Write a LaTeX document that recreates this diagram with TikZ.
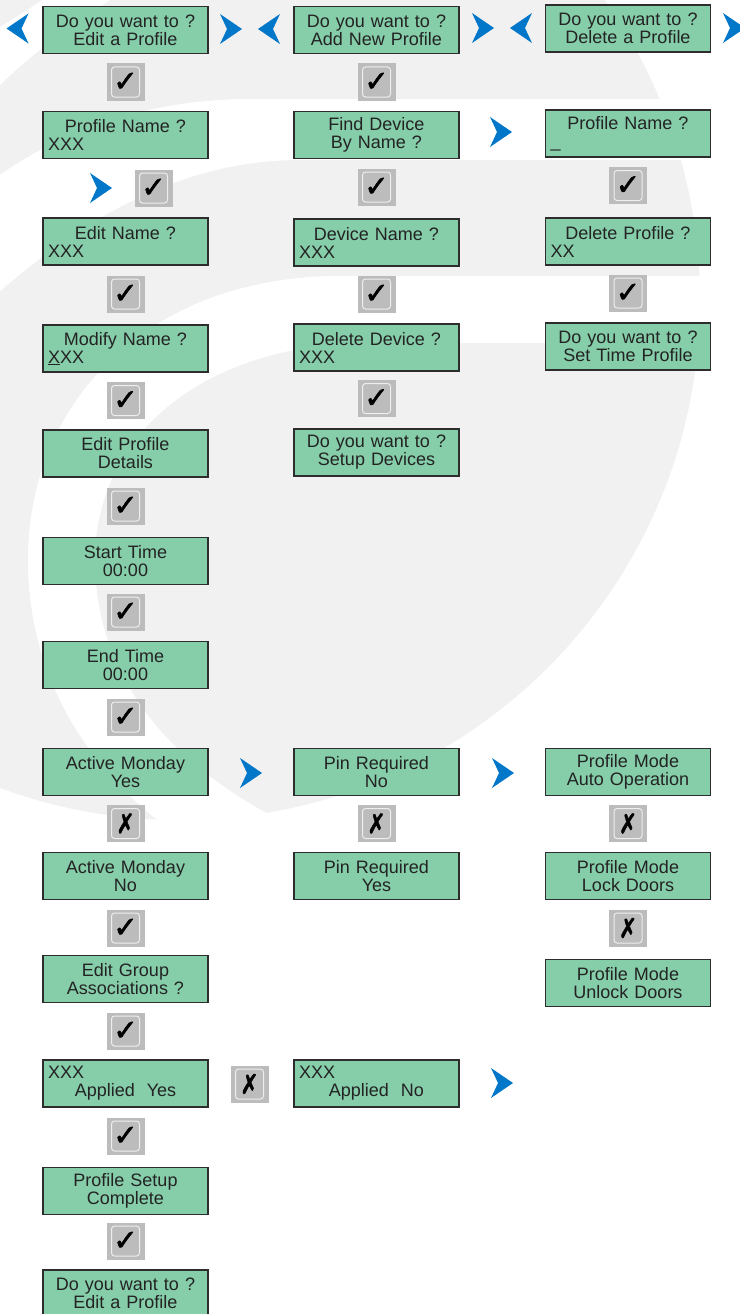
\documentclass[tikz,border=0pt]{standalone}
\usepackage{fontspec}
\setmainfont{Liberation Sans}
\newfontfamily\dingfont[FakeBold=2]{DejaVu Sans}
\usepackage{xcolor}
\usepackage{tikz}
\definecolor{lcdgreen}{RGB}{134,205,170}
\definecolor{lcdedge}{RGB}{45,45,45}
\definecolor{inktext}{RGB}{35,35,35}
\definecolor{keygrey}{RGB}{188,188,188}
\definecolor{navblue}{RGB}{0,119,200}
\definecolor{logogrey}{RGB}{241,241,241}
\newcommand{\okmark}{{\dingfont\fontsize{29}{29}\selectfont ✓}}
\newcommand{\nomark}{{\dingfont\fontsize{27}{27}\selectfont\scalebox{0.8}[1]{✗}}}
\newcommand{\lline}[1]{\makebox[155pt][l]{#1}}
\tikzset{
  scr/.style={rectangle,draw=lcdedge,line width=1.3pt,fill=lcdgreen,text=inktext,
    minimum width=165pt,minimum height=47pt,inner xsep=5pt,inner ysep=0pt,
    text width=155pt,align=center,font=\fontsize{18}{18}\selectfont},
  chk/.style={rectangle,fill=keygrey,minimum width=38pt,minimum height=37pt,inner sep=0pt,
    path picture={\draw[white!75!keygrey,line width=1pt,rounded corners=3pt]
      ([shift={(5pt,3.5pt)}]path picture bounding box.south west) rectangle
      ([shift={(-5pt,-3.5pt)}]path picture bounding box.north east);}},
  nxt/.pic={\fill[navblue] (-11,-15) -- (11,0) -- (-11,15) -- (-4,0) -- cycle;},
  logo/.style={fill=logogrey}
}
\begin{document}
\begin{tikzpicture}[x=1pt,y=-1pt]
  \useasboundingbox (0,0) rectangle (739,1314);
  % watermark
  \begin{scope}
    \clip (0,0) rectangle (739,1314);
    \fill[logo] (180,300) circle[radius=520pt];
    \fill[white] (-5,30) -- (-5,90) .. controls (30,55) and (70,25) .. (118,-5)
      -- (50,-5) .. controls (35,5) and (15,18) .. (-5,30);
    \fill[white] (760,99) -- (250,99) .. controls (150,99) and (60,130) .. (-10,182)
      -- (-10,300) .. controls (80,220) and (180,160) .. (300,160) -- (760,160) -- cycle;
    \fill[white] (760,276) -- (340,276) .. controls (150,276) and (28,400) .. (28,560)
      .. controls (28,680) and (90,770) .. (170,830) -- (300,830)
      .. controls (150,760) and (95,660) .. (95,560)
      .. controls (95,430) and (210,343) .. (370,343) -- (760,343) -- cycle;
  \end{scope}

  % edit a profile
  \node[scr] (a1) at (125.5,30) {Do you want to ?\\Edit a Profile};
  \node[chk] (k1) at (125.5,82) {\okmark};
  \node[scr] (a2) at (125.5,135) {Profile Name ?\\\lline{XXX}};
  \node[chk] (k2) at (153.5,188) {\okmark};
  \node[scr] (a3) at (125.5,241.5) {Edit Name ?\\\lline{XXX}};
  \node[chk] (k3) at (125.5,294) {\okmark};
  \node[scr] (a4) at (125.5,348.5) {Modify Name ?\\\lline{\underline{X}XX}};
  \node[chk] (k4) at (125.5,400.5) {\okmark};
  \node[scr] (a5) at (125.5,453.5) {Edit Profile\\Details};
  \node[chk] (k5) at (125.5,506) {\okmark};
  \node[scr] (a6) at (125.5,561) {Start Time\\00:00};
  \node[chk] (k6) at (125.5,612) {\okmark};
  \node[scr] (a7) at (125.5,665) {End Time\\00:00};
  \node[chk] (k7) at (125.5,717) {\okmark};
  \node[scr] (a8) at (125.5,772) {Active Monday\\Yes};
  \node[chk] (x1) at (125.5,823.5) {\nomark};
  \node[scr] (a9) at (125.5,876) {Active Monday\\No};
  \node[chk] (k8) at (125.5,928) {\okmark};
  \node[scr] (a10) at (125.5,979) {Edit Group\\Associations ?};
  \node[chk] (k9) at (125.5,1031) {\okmark};
  \node[scr] (a11) at (125.5,1083.5) {\lline{XXX}\\Applied\ \ Yes};
  \node[chk] (x2) at (249.5,1084) {\nomark};
  \node[chk] (k10) at (125.5,1136) {\okmark};
  \node[scr] (a12) at (125.5,1191) {Profile Setup\\Complete};
  \node[chk] (k11) at (125.5,1241) {\okmark};
  \node[scr] (a13) at (125.5,1293.5) {Do you want to ?\\Edit a Profile};

  % add new profile
  \node[scr] (b1) at (376.5,30) {Do you want to ?\\Add New Profile};
  \node[chk] (kb1) at (376.5,82) {\okmark};
  \node[scr] (b2) at (376.5,135) {Find Device\\By Name ?};
  \node[chk] (kb2) at (376.5,187) {\okmark};
  \node[scr] (b3) at (376.5,242.5) {Device Name ?\\\lline{XXX}};
  \node[chk] (kb3) at (376.5,294) {\okmark};
  \node[scr] (b4) at (376.5,347.5) {Delete Device ?\\\lline{XXX}};
  \node[chk] (kb4) at (376.5,398.5) {\okmark};
  \node[scr] (b5) at (376.5,452.5) {Do you want to ?\\Setup Devices};
  \node[scr] (b6) at (376.5,772) {Pin Required\\No};
  \node[chk] (xb1) at (376.5,823.5) {\nomark};
  \node[scr] (b7) at (376.5,876) {Pin Required\\Yes};
  \node[scr] (b8) at (376.5,1083.5) {\lline{XXX}\\Applied\ \ No};

  % delete a profile
  \node[scr] (c1) at (628,28.5) {Do you want to ?\\Delete a Profile};
  \node[scr] (c2) at (628,133.5) {Profile Name ?\\\lline{\_}};
  \node[chk] (kc1) at (628,185.5) {\okmark};
  \node[scr] (c3) at (628,241.5) {Delete Profile ?\\\lline{XX}};
  \node[chk] (kc2) at (628,293) {\okmark};
  \node[scr] (c4) at (628,346.5) {Do you want to ?\\Set Time Profile};
  \node[scr] (c5) at (628,772) {Profile Mode\\Auto Operation};
  \node[chk] (xc1) at (628,823.5) {\nomark};
  \node[scr] (c6) at (628,876) {Profile Mode\\Lock Doors};
  \node[chk] (xc2) at (628,928) {\nomark};
  \node[scr] (c7) at (628,983) {Profile Mode\\Unlock Doors};

  % scroll arrows
  \pic[xscale=-1] at (17.5,28.5) {nxt};
  \pic at (231,29) {nxt};
  \pic[xscale=-1] at (269,29) {nxt};
  \pic at (483,28) {nxt};
  \pic[xscale=-1] at (521,28) {nxt};
  \pic at (734,28) {nxt};
  \pic at (501,132) {nxt};
  \pic at (101,188) {nxt};
  \pic at (251,773) {nxt};
  \pic at (503,773) {nxt};
  \pic at (502,1083) {nxt};
\end{tikzpicture}
\end{document}
